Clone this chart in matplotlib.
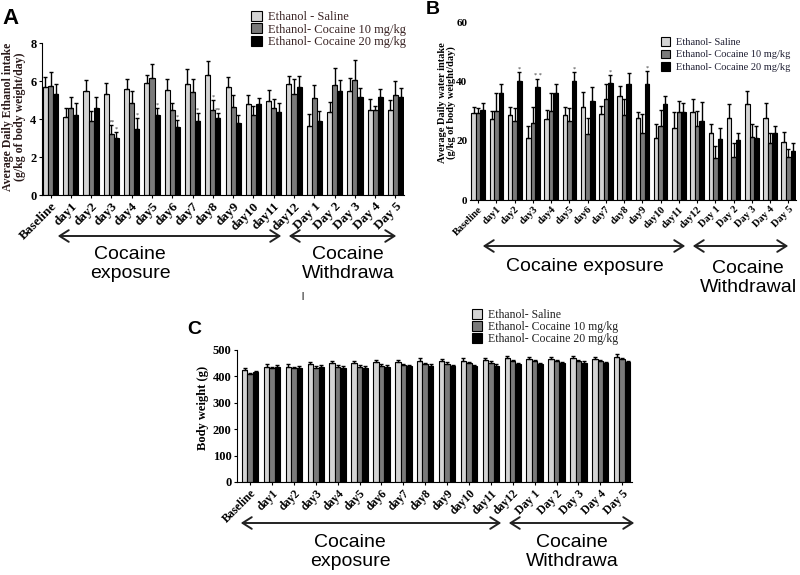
import matplotlib
matplotlib.use('Agg')
import matplotlib.pyplot as plt
import numpy as np
from matplotlib.patches import FancyArrowPatch

# ---------------- data ----------------
categories = ['Baseline', 'day1', 'day2', 'day3', 'day4', 'day5', 'day6', 'day7',
              'day8', 'day9', 'day10', 'day11', 'day12',
              'Day 1', 'Day 2', 'Day 3', 'Day 4', 'Day 5']

series_A = ['Ethanol - Saline', 'Ethanol- Cocaine 10 mg/kg', 'Ethanol- Cocaine 20 mg/kg']
series_BC = ['Ethanol- Saline', 'Ethanol- Cocaine 10 mg/kg', 'Ethanol- Cocaine 20 mg/kg']

# Panel A: average daily ethanol intake (g/kg/day)
a_saline = [5.68, 4.10, 5.50, 5.32, 5.57, 5.89, 5.54, 5.85, 6.33, 5.68, 4.78, 4.96, 5.85, 3.64, 4.39, 5.45, 4.48, 4.48]
a_saline_err = [0.52, 0.47, 0.53, 0.58, 0.53, 0.44, 0.56, 0.78, 0.70, 0.52, 0.49, 0.58, 0.42, 0.63, 0.53, 0.70, 0.56, 0.52]
a_coc10 = [5.75, 4.57, 3.87, 3.22, 4.83, 6.15, 4.45, 5.40, 4.48, 4.62, 4.22, 4.57, 5.32, 5.10, 5.80, 6.06, 4.48, 5.26]
a_coc10_err = [0.70, 0.58, 0.53, 0.47, 0.67, 0.75, 0.38, 0.70, 0.52, 0.65, 0.48, 0.47, 0.80, 0.70, 0.88, 1.02, 0.22, 0.74]
a_coc20 = [5.30, 4.20, 4.57, 3.00, 3.46, 4.22, 3.57, 3.87, 4.04, 3.81, 4.78, 4.39, 5.71, 3.87, 5.50, 5.18, 5.18, 5.14]
a_coc20_err = [0.55, 0.63, 0.61, 0.34, 0.58, 0.35, 0.38, 0.43, 0.26, 0.41, 0.32, 0.44, 0.53, 0.53, 0.53, 0.44, 0.39, 0.51]
a_signif = [(3, 1, '**'), (3, 2, '*'), (4, 2, '*'), (5, 2, '*'), (6, 2, '*'),
            (7, 2, '*'), (8, 1, '*'), (8, 2, '**')]

# Panel B: average daily water intake (g/kg/day)
b_saline = [29.2, 27.3, 28.7, 21.0, 27.3, 28.7, 31.3, 29.0, 35.1, 27.5, 20.8, 24.3, 29.5, 22.6, 27.5, 32.2, 27.5, 19.6]
b_saline_err = [2.0, 2.8, 2.6, 4.1, 2.9, 2.6, 5.0, 2.6, 3.3, 2.0, 4.7, 5.2, 4.7, 2.9, 5.0, 4.6, 5.2, 3.2]
b_coc10 = [29.2, 30.1, 26.7, 26.1, 30.1, 26.7, 22.2, 33.9, 28.7, 22.5, 25.1, 29.5, 25.1, 14.3, 14.6, 21.3, 19.3, 14.6]
b_coc10_err = [1.8, 5.9, 4.3, 5.2, 5.9, 4.3, 5.3, 5.3, 5.2, 6.5, 5.3, 3.8, 5.0, 3.8, 4.7, 4.2, 3.2, 2.7]
b_coc20 = [30.4, 36.0, 40.0, 38.0, 36.0, 40.0, 33.3, 39.5, 39.2, 39.2, 32.2, 29.8, 26.5, 20.5, 20.2, 21.0, 22.5, 16.4]
b_coc20_err = [2.3, 3.2, 3.0, 2.9, 3.2, 3.0, 4.7, 2.6, 3.5, 4.3, 2.7, 2.9, 6.5, 3.7, 2.3, 4.1, 2.6, 2.9]
b_signif = [(2, 2, '*'), (3, 2, '* *'), (5, 2, '*'), (7, 2, '*'), (9, 2, '*')]

# Panel C: body weight (g)
c_saline = [424, 437, 437, 446, 449, 449, 453, 455, 460, 458, 460, 462, 468, 465, 465, 468, 465, 474]
c_saline_err = [9] * 18
c_coc10 = [408, 431, 431, 433, 437, 437, 440, 442, 446, 447, 449, 451, 458, 458, 458, 458, 458, 465]
c_coc10_err = [6] * 18
c_coc20 = [416, 437, 433, 437, 433, 433, 437, 439, 441, 440, 440, 441, 447, 446, 449, 452, 449, 455]
c_coc20_err = [5] * 18

# ---------------- style ----------------
colors = ['#d4d4d4', '#7a7a7a', '#000000']
serif = 'Liberation Serif'
sans = 'Liberation Sans'

W, H = 800, 575
fig = plt.figure(figsize=(8, 5.75), dpi=100)


def fx(px):
    return px / W


def fy(py):
    return 1 - py / H


def axes_px(left, top, right, bottom):
    return fig.add_axes([fx(left), fy(bottom), fx(right) - fx(left), (bottom - top) / H])


def draw_bars(ax, vals, errs, labels, capsize, lw=0.8):
    x = np.arange(len(categories))
    width = 0.25
    offs = [-width, 0, width]
    for v, e, lab, c, o in zip(vals, errs, labels, colors, offs):
        ax.bar(x + o, v, width, color=c, edgecolor='black', linewidth=lw, label=lab, zorder=2)
        ax.errorbar(x + o, v, yerr=[np.zeros(len(v)), e], fmt='none', ecolor='black',
                    elinewidth=1.0, capsize=capsize, capthick=1.0, zorder=3)
    return x, offs


def arrow(x0, x1, y):
    a = FancyArrowPatch((fx(x0), fy(y)), (fx(x1), fy(y)), transform=fig.transFigure,
                        arrowstyle='<->,head_length=0.55,head_width=0.35',
                        mutation_scale=12, lw=1.4, color='#222222')
    fig.add_artist(a)


# ---------------- Panel A ----------------
axA = axes_px(42, 43, 404, 195)
xA, offA = draw_bars(axA, [a_saline, a_coc10, a_coc20], [a_saline_err, a_coc10_err, a_coc20_err],
                     series_A, capsize=1.5)
axA.set_xlim(-0.42, 17.42)
axA.set_ylim(0, 8)
axA.set_yticks([0, 2, 4, 6, 8])
axA.set_xticks(xA)
axA.set_xticklabels(categories, rotation=45, ha='right', rotation_mode='anchor',
                    fontfamily=serif, fontweight='bold', fontsize=9.5)
for t in axA.get_yticklabels():
    t.set_fontfamily(serif); t.set_fontweight('bold'); t.set_fontsize(9)
axA.tick_params(axis='both', length=2.5, width=0.8, pad=1.5)
for s in ['top', 'right']:
    axA.spines[s].set_visible(False)
for s in ['left', 'bottom']:
    axA.spines[s].set_linewidth(0.8)
vals_A = [a_saline, a_coc10, a_coc20]
errs_A = [a_saline_err, a_coc10_err, a_coc20_err]
for g, si, txt in a_signif:
    axA.text(xA[g] + offA[si], vals_A[si][g] + errs_A[si][g] + 0.02, txt, ha='center', va='bottom',
             fontsize=4.5, color='#333333', fontfamily=serif)
legA = axA.legend(loc='upper left', bbox_to_anchor=(fx(251), fy(11)), bbox_transform=fig.transFigure,
                  frameon=False, prop={'family': serif, 'size': 9}, handlelength=0.85, handleheight=0.85,
                  handletextpad=0.5, labelspacing=0.0, borderpad=0, borderaxespad=0)
for t in legA.get_texts():
    t.set_color('#3a2424')

fig.text(fx(14), fy(117), 'Average Daily Ethanol intake\n(g/kg of body weight/day)', rotation=90,
         ha='center', va='center', fontfamily=serif, fontweight='bold', fontsize=8.5, linespacing=1.0,
         color='#2a1a1a')
fig.text(fx(2), fy(19), 'A', fontfamily=sans, fontweight='bold', fontsize=16, ha='left', va='center')

arrow(55, 284, 236)
arrow(286, 399, 236)
fig.text(fx(130), fy(264), 'Cocaine\nexposure', ha='center', va='center', fontfamily=sans,
         fontsize=14, linespacing=1.15)
fig.text(fx(348), fy(264), 'Cocaine\nWithdrawa', ha='center', va='center', fontfamily=sans,
         fontsize=14, linespacing=1.15)
fig.text(fx(302), fy(297), 'l', ha='center', va='center', fontfamily=sans, fontsize=7)

# ---------------- Panel B ----------------
axB = axes_px(470, 22, 796, 200)
xB, offB = draw_bars(axB, [b_saline, b_coc10, b_coc20], [b_saline_err, b_coc10_err, b_coc20_err],
                     series_BC, capsize=1.3)
axB.set_xlim(-0.45, 17.42)
axB.set_ylim(0, 60)
axB.set_yticks([0, 20, 40, 60])
axB.set_xticks(xB)
axB.set_xticklabels(categories, rotation=45, ha='right', rotation_mode='anchor',
                    fontfamily=serif, fontweight='bold', fontsize=7.5)
for t in axB.get_yticklabels():
    t.set_fontfamily(serif); t.set_fontweight('bold'); t.set_fontsize(8)
axB.tick_params(axis='y', length=0, pad=2)
axB.tick_params(axis='x', length=2, width=0.8, pad=1.5)
for s in ['top', 'right', 'left']:
    axB.spines[s].set_visible(False)
axB.spines['bottom'].set_linewidth(0.8)
vals_B = [b_saline, b_coc10, b_coc20]
errs_B = [b_saline_err, b_coc10_err, b_coc20_err]
for g, si, txt in b_signif:
    axB.text(xB[g] + offB[si], vals_B[si][g] + errs_B[si][g] + 0.1, txt, ha='center', va='bottom',
             fontsize=4.5, color='#333333', fontfamily=serif)
legB = axB.legend(loc='upper left', bbox_to_anchor=(fx(661), fy(37)), bbox_transform=fig.transFigure,
                  frameon=False, prop={'family': serif, 'size': 7.5}, handlelength=0.9, handleheight=0.9,
                  handletextpad=0.5, labelspacing=0.25, borderpad=0, borderaxespad=0)
for t in legB.get_texts():
    t.set_color('#1f1f33')

fig.text(fx(447), fy(103), 'Average Daily water intake\n(g/kg of body weight/day)', rotation=90,
         ha='center', va='center', fontfamily=serif, fontweight='bold', fontsize=7.5, linespacing=1.0)
fig.text(fx(426), fy(10), 'B', fontfamily=sans, fontweight='bold', fontsize=14, ha='left', va='center')

arrow(480, 688, 246)
arrow(690, 791, 246)
fig.text(fx(585), fy(266), 'Cocaine exposure', ha='center', va='center', fontfamily=sans, fontsize=14)
fig.text(fx(748), fy(278), 'Cocaine\nWithdrawal', ha='center', va='center', fontfamily=sans,
         fontsize=14, linespacing=1.15)

# ---------------- Panel C ----------------
axC = axes_px(237, 350, 632, 482)
xC, offC = draw_bars(axC, [c_saline, c_coc10, c_coc20], [c_saline_err, c_coc10_err, c_coc20_err],
                     series_BC, capsize=1.3)
axC.set_xlim(-0.6, 17.45)
axC.set_ylim(0, 500)
axC.set_yticks([0, 100, 200, 300, 400, 500])
axC.set_xticks(xC)
axC.set_xticklabels(categories, rotation=45, ha='right', rotation_mode='anchor',
                    fontfamily=serif, fontweight='bold', fontsize=8.5)
for t in axC.get_yticklabels():
    t.set_fontfamily(serif); t.set_fontweight('bold'); t.set_fontsize(9)
axC.tick_params(axis='both', length=2.5, width=0.8, pad=1.5)
for s in ['top', 'right']:
    axC.spines[s].set_visible(False)
for s in ['left', 'bottom']:
    axC.spines[s].set_linewidth(0.8)
legC = axC.legend(loc='upper left', bbox_to_anchor=(fx(472), fy(309)), bbox_transform=fig.transFigure,
                  frameon=False, prop={'family': serif, 'size': 8.5}, handlelength=0.85, handleheight=0.85,
                  handletextpad=0.5, labelspacing=0.0, borderpad=0, borderaxespad=0)
for t in legC.get_texts():
    t.set_color('#222222')

fig.text(fx(203), fy(408), 'Body weight (g)', rotation=90, ha='center', va='center',
         fontfamily=serif, fontweight='bold', fontsize=9)
fig.text(fx(187), fy(330), 'C', fontfamily=sans, fontweight='bold', fontsize=14, ha='left', va='center')

arrow(238, 504, 523)
arrow(506, 637, 523)
fig.text(fx(350), fy(552), 'Cocaine\nexposure', ha='center', va='center', fontfamily=sans,
         fontsize=14, linespacing=1.15)
fig.text(fx(572), fy(552), 'Cocaine\nWithdrawa', ha='center', va='center', fontfamily=sans,
         fontsize=14, linespacing=1.15)

fig.savefig('out.png', dpi=100)
